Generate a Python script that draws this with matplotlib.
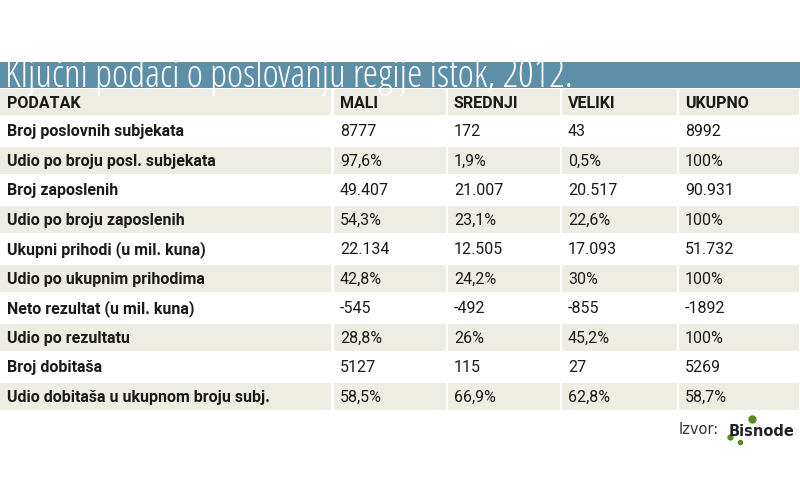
import matplotlib
matplotlib.use("Agg")
import matplotlib.pyplot as plt
from matplotlib.patches import Rectangle

TITLE = "Ključni podaci o poslovanju regije istok, 2012."
COLUMNS = ["PODATAK", "MALI", "SREDNJI", "VELIKI", "UKUPNO"]
ROW_LABELS = [
    "Broj poslovnih subjekata",
    "Udio po broju posl. subjekata",
    "Broj zaposlenih",
    "Udio po broju zaposlenih",
    "Ukupni prihodi (u mil. kuna)",
    "Udio po ukupnim prihodima",
    "Neto rezultat (u mil. kuna)",
    "Udio po rezultatu",
    "Broj dobitaša",
    "Udio dobitaša u ukupnom broju subj.",
]
MALI = ["8777", "97,6%", "49.407", "54,3%", "22.134", "42,8%", "-545", "28,8%", "5127", "58,5%"]
SREDNJI = ["172", "1,9%", "21.007", "23,1%", "12.505", "24,2%", "-492", "26%", "115", "66,9%"]
VELIKI = ["43", "0,5%", "20.517", "22,6%", "17.093", "30%", "-855", "45,2%", "27", "62,8%"]
UKUPNO = ["8992", "100%", "90.931", "100%", "51.732", "100%", "-1892", "100%", "5269", "58,7%"]

BAND = "#5e8fa8"
BEIGE = "#eeede3"
col_x = [0, 333, 447, 561, 678, 800]

fig = plt.figure(figsize=(8, 4.8), dpi=100)
ax = fig.add_axes([0, 0, 1, 1])
ax.set_xlim(0, 800)
ax.set_ylim(480, 0)
ax.axis("off")

ax.add_patch(Rectangle((0, 62), 800, 26, color=BAND, lw=0))
ax.text(5, 87, TITLE, color="white", fontsize=28, family="Open Sans",
        fontstretch="condensed", va="baseline", ha="left")

top, hh, rh = 88, 28, 29.5
rows = [COLUMNS] + [list(r) for r in zip(ROW_LABELS, MALI, SREDNJI, VELIKI, UKUPNO)]
for i, row in enumerate(rows):
    y0 = top if i == 0 else top + hh + (i - 1) * rh
    h = hh if i == 0 else rh
    fill = BEIGE if i % 2 == 0 else "white"
    for j in range(5):
        ax.add_patch(Rectangle((col_x[j] + (1 if j else 0), y0 + 1),
                               col_x[j + 1] - col_x[j] - 2, h - 2, color=fill, lw=0))
        bold = i == 0 or j == 0
        ax.text(col_x[j] + 7, y0 + h / 2 + 1, row[j], fontsize=11.5,
                fontweight="bold" if bold else "normal", color="#1a1a1a",
                family="Roboto", fontstretch="condensed", va="center", ha="left")

ax.text(719, 430, "Izvor:", fontsize=10.5, color="#333333", va="center", ha="right")
ax.text(795, 431, "Bisnode", fontsize=10.5, fontweight="bold", color="#222222",
        va="center", ha="right")
for (cx, cy, s) in [(752, 419, 5), (730, 437, 3.5), (740, 442, 3)]:
    ax.plot(cx, cy, "o", color="#5a8a1e", ms=s)

fig.savefig("out.png", dpi=100)
